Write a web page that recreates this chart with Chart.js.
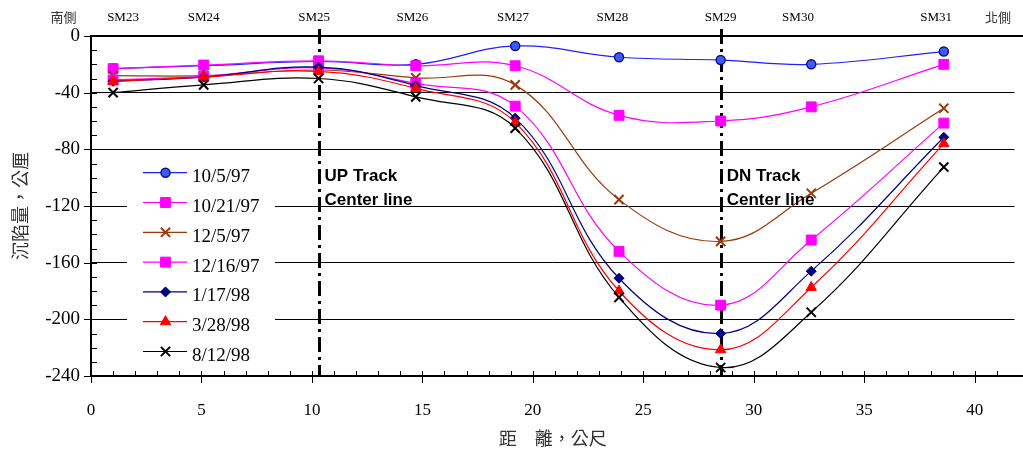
<!DOCTYPE html>
<html>
<head>
<meta charset="utf-8">
<script src="https://cdn.jsdelivr.net/npm/chart.js@4/dist/chart.umd.min.js"></script>
<style>
  html, body { margin: 0; padding: 0; background: #fff; }
</style>
</head>
<body>
<canvas id="settleChart" width="1023" height="451"></canvas>
<script>
// Datos
const stationX = [1.0, 5.1, 10.3, 14.7, 19.2, 23.9, 28.5, 32.6, 38.6];
const stationNames = ['SM23', 'SM24', 'SM25', 'SM26', 'SM27', 'SM28', 'SM29', 'SM30', 'SM31'];
const stationLabelX = [1.45, 5.1, 10.1, 14.55, 19.1, 23.6, 28.5, 32.0, 38.25];
const sideNames = ['南側', '北側'];
const sideLabelX = [-1.25, 41.05];

const seriesLabels = ['10/5/97', '10/21/97', '12/5/97', '12/16/97', '1/17/98', '3/28/98', '8/12/98'];
const s100597 = [-23, -21, -18, -20, -7, -15, -17, -20, -11];
const s102197 = [-23, -20.5, -17.5, -21, -21, -56, -60, -50, -20];
const s120597 = [-28, -28, -24, -29.5, -34.5, -115.5, -145, -111, -51];
const s121697 = [-31, -28.5, -22.5, -33.5, -49.5, -152, -190, -144, -61.5];
const s011798 = [-32, -29, -22, -35, -58, -171, -210, -166, -71.5];
const s032898 = [-32, -29, -25, -37, -61, -180, -221.5, -177.5, -76];
const s081298 = [-40, -34.5, -30, -43, -65, -184.5, -234, -195, -92.5];

const xTicks = [0, 5, 10, 15, 20, 25, 30, 35, 40];
const yTicks = [0, -40, -80, -120, -160, -200, -240];
const centerLines = [10.3, 28.5];
const centerTexts = [['UP Track', 'Center line'], ['DN Track', 'Center line']];

// Estilos por serie
const styles = [
  { color: '#1f1fff', pointStyle: 'circle', radius: 4.5, fill: '#3a5cff', border: '#101080', bw: 1.5 },
  { color: '#ff00ff', pointStyle: 'rect', radius: 7, fill: '#ff00ff', border: '#ff00ff', bw: 1 },
  { color: '#9a3a0a', pointStyle: 'crossRot', radius: 6.5, fill: '#9a3a0a', border: '#9a3a0a', bw: 2 },
  { color: '#ff00ff', pointStyle: 'rect', radius: 7, fill: '#ff00ff', border: '#ff00ff', bw: 1 },
  { color: '#000080', pointStyle: 'rectRot', radius: 5, fill: '#000080', border: '#000080', bw: 1 },
  { color: '#ff0000', pointStyle: 'triangle', radius: 6, fill: '#ff0000', border: '#ff0000', bw: 1 },
  { color: '#000000', pointStyle: 'crossRot', radius: 6.5, fill: '#000000', border: '#000000', bw: 2 }
];
const seriesValues = [s100597, s102197, s120597, s121697, s011798, s032898, s081298];

const datasets = seriesValues.map((vals, i) => ({
  label: seriesLabels[i],
  data: vals.map((v, j) => ({ x: stationX[j], y: v })),
  borderColor: styles[i].color,
  borderWidth: 1.2,
  tension: 0.4,
  pointStyle: styles[i].pointStyle,
  pointRadius: styles[i].radius,
  pointBackgroundColor: styles[i].fill,
  pointBorderColor: styles[i].border,
  pointBorderWidth: styles[i].bw,
  order: seriesValues.length - i
}));

const serif = 'Liberation Serif';
const cjk = 'Noto Sans CJK TC';

// Ejes, líneas centrales, leyenda y rótulos
const decorPlugin = {
  id: 'decor',
  beforeDatasetsDraw(chart) {
    const { ctx, chartArea: a, scales: { x } } = chart;
    ctx.save();
    // fondo blanco de la leyenda (tapa la grilla)
    ctx.fillStyle = '#fff';
    ctx.fillRect(127, 152, 148, 216);
    ctx.strokeStyle = '#000';
    ctx.lineWidth = 3;
    ctx.setLineDash([15, 5, 3, 5]);
    centerLines.forEach(v => {
      const px = Math.round(x.getPixelForValue(v)) + 0.5;
      ctx.beginPath();
      ctx.moveTo(px, a.top - 7);
      ctx.lineTo(px, a.bottom);
      ctx.stroke();
    });
    ctx.restore();
  },
  afterDatasetsDraw(chart) {
    const { ctx, chartArea: a, scales: { x, y } } = chart;
    ctx.save();
    // marco
    ctx.strokeStyle = '#000';
    ctx.lineWidth = 2;
    ctx.beginPath();
    ctx.moveTo(chart.width, a.top);
    ctx.lineTo(a.left, a.top);
    ctx.lineTo(a.left, a.bottom);
    ctx.lineTo(chart.width, a.bottom);
    ctx.stroke();
    // marcas menores y mayores
    ctx.lineWidth = 1;
    ctx.beginPath();
    for (let v = 0; v >= -240; v -= 10) {
      const py = Math.round(y.getPixelForValue(v)) + 0.5;
      ctx.moveTo(a.left, py);
      ctx.lineTo(a.left + 6, py);
      if (v % 40 === 0) {
        ctx.moveTo(a.left - 7, py);
        ctx.lineTo(a.left, py);
      }
    }
    for (let v = 0; v <= 41; v += 1) {
      const px = Math.round(x.getPixelForValue(v)) + 0.5;
      ctx.moveTo(px, a.bottom);
      ctx.lineTo(px, a.bottom - 5);
      if (v % 5 === 0) {
        ctx.moveTo(px, a.bottom);
        ctx.lineTo(px, a.bottom + 7);
      }
    }
    ctx.stroke();

    // textos de las líneas centrales
    ctx.fillStyle = '#000';
    ctx.font = 'bold 17px "Liberation Sans", Arial';
    ctx.textBaseline = 'middle';
    ctx.textAlign = 'left';
    centerLines.forEach((v, i) => {
      const px = x.getPixelForValue(v) + 6;
      ctx.fillText(centerTexts[i][0], px, 176);
      ctx.fillText(centerTexts[i][1], px, 200);
    });

    // leyenda
    ctx.font = '19px "' + serif + '"';
    seriesLabels.forEach((lab, i) => {
      const ly = 172.7 + i * 29.8;
      const st = styles[i];
      ctx.strokeStyle = st.color;
      ctx.lineWidth = 1.2;
      ctx.beginPath();
      ctx.moveTo(143, ly);
      ctx.lineTo(187, ly);
      ctx.stroke();
      ctx.fillStyle = st.fill;
      ctx.strokeStyle = st.border;
      ctx.lineWidth = st.bw;
      Chart.helpers.drawPoint(ctx, { pointStyle: st.pointStyle, radius: st.radius, borderWidth: st.bw, rotation: 0 }, 165.5, ly);
      ctx.fillStyle = '#000';
      ctx.fillText(lab, 192, ly + 4.5);
    });

    // rótulos de estaciones
    ctx.textAlign = 'center';
    ctx.font = '13px "' + serif + '"';
    stationNames.forEach((n, i) => {
      ctx.fillText(n, x.getPixelForValue(stationLabelX[i]), 18);
    });
    ctx.fillStyle = '#333';
    ctx.font = '13px "' + cjk + '"';
    sideNames.forEach((n, i) => {
      ctx.fillText(n, x.getPixelForValue(sideLabelX[i]), 17);
    });
    ctx.restore();
  }
};

new Chart(document.getElementById('settleChart'), {
  type: 'line',
  data: { datasets },
  options: {
    responsive: false,
    animation: false,
    layout: { padding: { top: 36, right: 1, left: 0, bottom: 0 } },
    plugins: { legend: { display: false }, tooltip: { enabled: false } },
    scales: {
      x: {
        type: 'linear',
        min: 0,
        max: 41.8,
        afterBuildTicks: s => { s.ticks = xTicks.map(v => ({ value: v })); },
        afterFit: s => { s.height = 75; },
        border: { display: false },
        grid: { display: false, drawTicks: false },
        ticks: { padding: 24, color: '#000', maxRotation: 0, font: { family: serif, size: 17 } },
        title: { display: true, text: '距　離，公尺', color: '#333', padding: { top: 0, bottom: 2 }, font: { family: cjk, size: 18 } }
      },
      y: {
        min: -240,
        max: 0,
        afterBuildTicks: s => { s.ticks = yTicks.map(v => ({ value: v })); },
        afterFit: s => { s.width = 91; },
        border: { display: false },
        grid: { color: '#000', lineWidth: 1, drawTicks: false },
        ticks: { padding: 11, color: '#000', font: { family: serif, size: 19 } },
        title: { display: true, text: '沉陷量，公厘', color: '#333', padding: { top: 9, bottom: 0 }, font: { family: cjk, size: 18 } }
      }
    }
  },
  plugins: [decorPlugin]
});
</script>
</body>
</html>
